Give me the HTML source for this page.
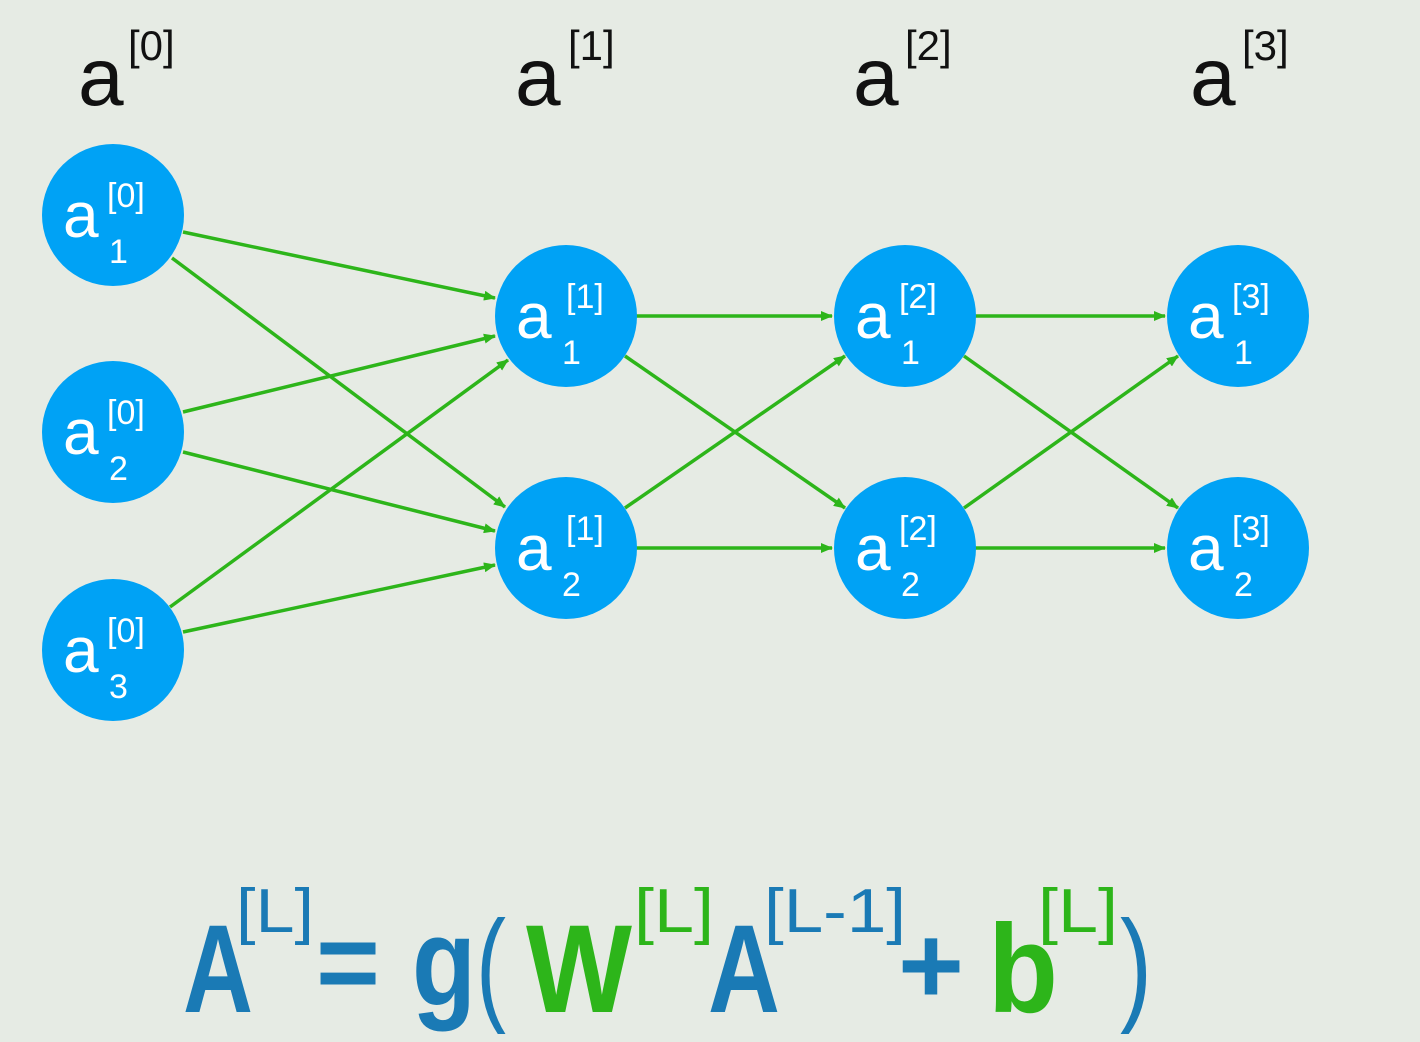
<!DOCTYPE html>
<html><head><meta charset="utf-8"><style>
html,body{margin:0;padding:0;background:#e6ebe4;}
svg{display:block;font-family:"Liberation Sans","DejaVu Sans",sans-serif;}
</style></head><body>
<svg width="1420" height="1042" viewBox="0 0 1420 1042" xmlns="http://www.w3.org/2000/svg">
<rect width="1420" height="1042" fill="#e6ebe4"/>
<defs>
<marker id="ah" markerWidth="12" markerHeight="10" refX="11" refY="5" orient="auto" markerUnits="userSpaceOnUse">
<path d="M0,0 L12,5 L0,10 Z" fill="#2db51a"/></marker>
</defs>
<!-- headings -->
<g fill="#111" font-size="82">
<text x="78" y="105">a</text><text x="128" y="60" font-size="42">[0]</text>
<text x="515" y="105">a</text><text x="568" y="60" font-size="42">[1]</text>
<text x="853" y="105">a</text><text x="905" y="60" font-size="42">[2]</text>
<text x="1190" y="105">a</text><text x="1242" y="60" font-size="42">[3]</text>
</g>
<!-- edges -->
<g stroke="#2db51a" stroke-width="3.5" fill="none" marker-end="url(#ah)">
<line x1="183" y1="232" x2="495" y2="298"/>
<line x1="172" y1="258" x2="505" y2="507"/>
<line x1="183" y1="412" x2="495" y2="336"/>
<line x1="183" y1="452" x2="495" y2="531"/>
<line x1="170" y1="607" x2="508" y2="360"/>
<line x1="183" y1="632" x2="495" y2="565"/>
<line x1="636" y1="316" x2="832" y2="316"/>
<line x1="625" y1="356" x2="845" y2="508"/>
<line x1="625" y1="508" x2="845" y2="356"/>
<line x1="636" y1="548" x2="832" y2="548"/>
<line x1="975" y1="316" x2="1165" y2="316"/>
<line x1="964" y1="356" x2="1178" y2="508"/>
<line x1="964" y1="508" x2="1178" y2="356"/>
<line x1="975" y1="548" x2="1165" y2="548"/>
</g>
<!-- nodes -->
<g fill="#00a2f5">
<circle cx="113" cy="215" r="71"/><circle cx="113" cy="432" r="71"/><circle cx="113" cy="650" r="71"/>
<circle cx="566" cy="316" r="71"/><circle cx="566" cy="548" r="71"/>
<circle cx="905" cy="316" r="71"/><circle cx="905" cy="548" r="71"/>
<circle cx="1238" cy="316" r="71"/><circle cx="1238" cy="548" r="71"/>
</g>
<g fill="#fff">
<g transform="translate(113,215)"><text x="-50" y="22" font-size="64">a</text><text x="-6" y="-8" font-size="34">[0]</text><text x="-4" y="48" font-size="34">1</text></g>
<g transform="translate(113,432)"><text x="-50" y="22" font-size="64">a</text><text x="-6" y="-8" font-size="34">[0]</text><text x="-4" y="48" font-size="34">2</text></g>
<g transform="translate(113,650)"><text x="-50" y="22" font-size="64">a</text><text x="-6" y="-8" font-size="34">[0]</text><text x="-4" y="48" font-size="34">3</text></g>
<g transform="translate(566,316)"><text x="-50" y="22" font-size="64">a</text><text x="0" y="-8" font-size="34">[1]</text><text x="-4" y="48" font-size="34">1</text></g>
<g transform="translate(566,548)"><text x="-50" y="22" font-size="64">a</text><text x="0" y="-8" font-size="34">[1]</text><text x="-4" y="48" font-size="34">2</text></g>
<g transform="translate(905,316)"><text x="-50" y="22" font-size="64">a</text><text x="-6" y="-8" font-size="34">[2]</text><text x="-4" y="48" font-size="34">1</text></g>
<g transform="translate(905,548)"><text x="-50" y="22" font-size="64">a</text><text x="-6" y="-8" font-size="34">[2]</text><text x="-4" y="48" font-size="34">2</text></g>
<g transform="translate(1238,316)"><text x="-50" y="22" font-size="64">a</text><text x="-6" y="-8" font-size="34">[3]</text><text x="-4" y="48" font-size="34">1</text></g>
<g transform="translate(1238,548)"><text x="-50" y="22" font-size="64">a</text><text x="-6" y="-8" font-size="34">[3]</text><text x="-4" y="48" font-size="34">2</text></g>
</g>
<!-- formula -->
<g font-weight="bold">
<text x="183" y="1012" font-size="125" fill="#1a7ab5" textLength="70" lengthAdjust="spacingAndGlyphs">A</text>
<text x="236" y="932" font-size="62" fill="#1a7ab5" font-weight="normal" textLength="78" lengthAdjust="spacingAndGlyphs">[L]</text>
<text x="316" y="1000" font-size="110" fill="#1a7ab5" textLength="64" lengthAdjust="spacingAndGlyphs">=</text>
<text x="412" y="1005" font-size="125" fill="#1a7ab5" textLength="64" lengthAdjust="spacingAndGlyphs">g</text>
<text x="476" y="1008" font-size="125" fill="#1a7ab5" font-weight="normal" textLength="30" lengthAdjust="spacingAndGlyphs">(</text>
<text x="526" y="1012" font-size="125" fill="#2db51a" textLength="106" lengthAdjust="spacingAndGlyphs">W</text>
<text x="634" y="932" font-size="62" fill="#2db51a" font-weight="normal" textLength="80" lengthAdjust="spacingAndGlyphs">[L]</text>
<text x="708" y="1012" font-size="125" fill="#1a7ab5" textLength="72" lengthAdjust="spacingAndGlyphs">A</text>
<text x="764" y="932" font-size="62" fill="#1a7ab5" font-weight="normal" textLength="142" lengthAdjust="spacingAndGlyphs">[L-1]</text>
<text x="898" y="1003" font-size="110" fill="#1a7ab5" textLength="66" lengthAdjust="spacingAndGlyphs">+</text>
<text x="988" y="1012" font-size="125" fill="#2db51a" textLength="70" lengthAdjust="spacingAndGlyphs">b</text>
<text x="1038" y="932" font-size="62" fill="#2db51a" font-weight="normal" textLength="80" lengthAdjust="spacingAndGlyphs">[L]</text>
<text x="1120" y="1008" font-size="125" fill="#1a7ab5" font-weight="normal" textLength="32" lengthAdjust="spacingAndGlyphs">)</text>
</g>
</svg>
</body></html>
